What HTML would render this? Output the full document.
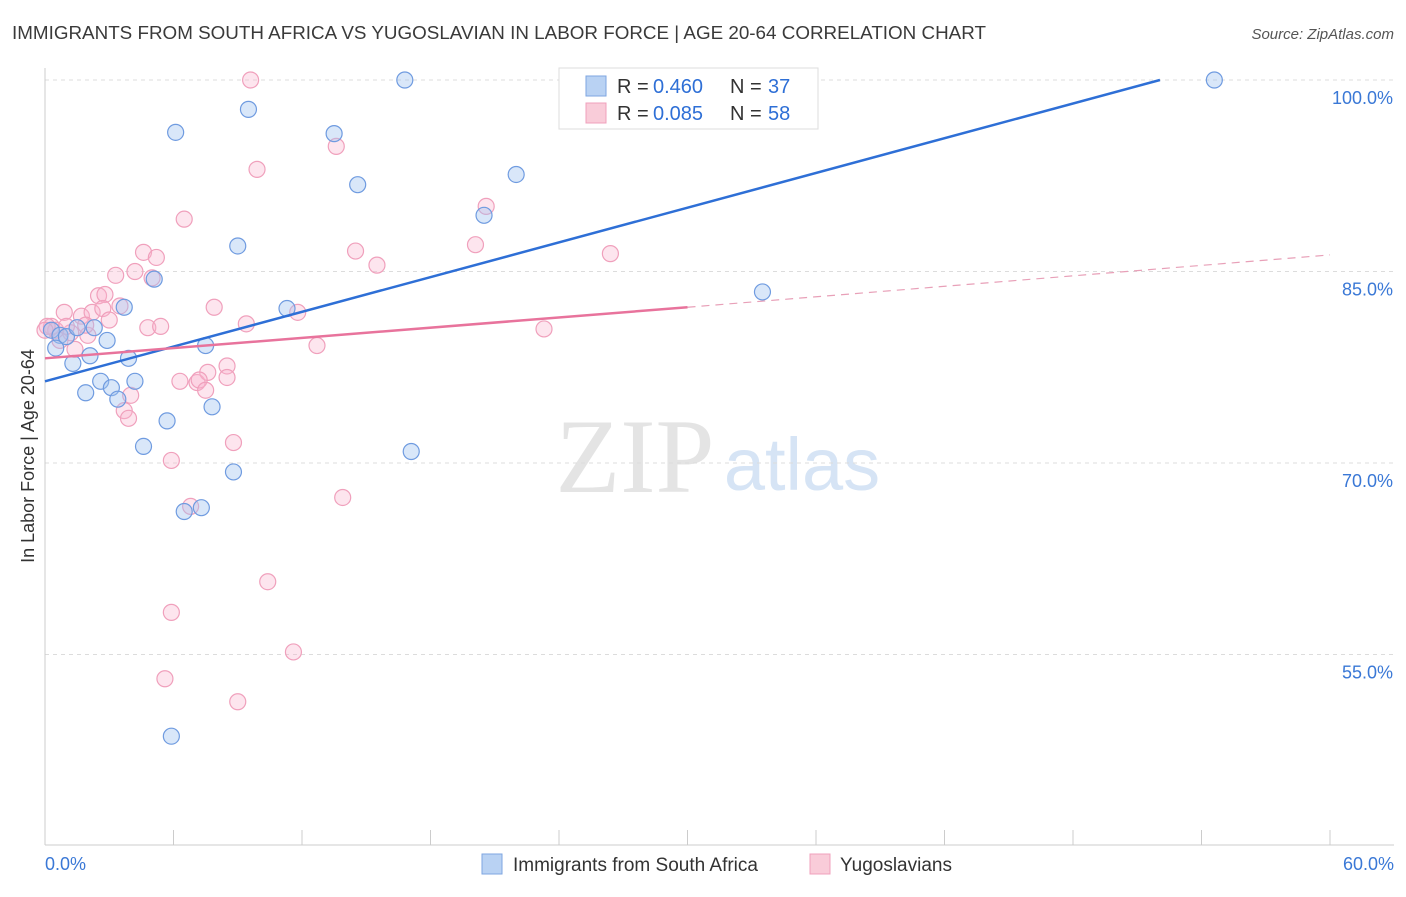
<!DOCTYPE html>
<html><head><meta charset="utf-8"><style>
body{margin:0;background:#fff;font-family:"Liberation Sans",sans-serif}
</style></head><body>
<svg id="c" width="1406" height="892" xmlns="http://www.w3.org/2000/svg" font-family="Liberation Sans, sans-serif">
<text x="12" y="39" font-size="18" fill="#3a3a3a" textLength="974" lengthAdjust="spacingAndGlyphs">IMMIGRANTS FROM SOUTH AFRICA VS YUGOSLAVIAN IN LABOR FORCE | AGE 20-64 CORRELATION CHART</text>
<text x="1394" y="39" font-size="15" fill="#555" font-style="italic" text-anchor="end">Source: ZipAtlas.com</text>
<g>
<text x="635" y="492" font-size="106" font-family="Liberation Serif, serif" fill="#e4e4e4" text-anchor="middle">ZIP</text>
<text x="802" y="490" font-size="74" fill="#d6e4f5" text-anchor="middle">atlas</text>
</g>
<g id="grid"></g>
<g id="axes"></g>
<g id="pts"></g>
<g id="lines"></g>
<text x="34" y="456" font-size="18" fill="#333" text-anchor="middle" transform="rotate(-90 34 456)">In Labor Force | Age 20-64</text>
<g>
<rect x="559" y="68" width="259" height="61" fill="#fff" stroke="#ddd"/>
<rect x="586" y="76" width="20" height="20" fill="#b9d2f3" stroke="#7ea6e0"/>
<text x="617" y="93" font-size="20" fill="#333">R =</text>
<text x="653" y="93" font-size="20" fill="#2e6fd6">0.460</text>
<text x="730" y="93" font-size="20" fill="#333">N =</text>
<text x="768" y="93" font-size="20" fill="#2e6fd6">37</text>
<rect x="586" y="103" width="20" height="20" fill="#f9ccd9" stroke="#f0a0bc"/>
<text x="617" y="120" font-size="20" fill="#333">R =</text>
<text x="653" y="120" font-size="20" fill="#2e6fd6">0.085</text>
<text x="730" y="120" font-size="20" fill="#333">N =</text>
<text x="768" y="120" font-size="20" fill="#2e6fd6">58</text>
</g>
<g>
<rect x="482" y="854" width="20" height="20" fill="#b9d2f3" stroke="#7ea6e0"/>
<text x="513" y="871" font-size="19" fill="#333">Immigrants from South Africa</text>
<rect x="810" y="854" width="20" height="20" fill="#f9ccd9" stroke="#f0a0bc"/>
<text x="840" y="871" font-size="19" fill="#333">Yugoslavians</text>
</g>
</svg>
<script>
const blueX=[16.8,54.6,9.5,6.1,13.5,14.6,22.0,20.5,9.0,5.1,3.7,11.3,33.5,0.3,0.7,1.0,1.5,2.3,2.9,0.5,7.5,2.1,3.9,1.3,2.6,4.2,3.1,1.9,3.4,7.8,5.7,4.6,17.1,8.8,6.5,7.3,5.9];
const blueY=[100,100,97.7,95.9,95.8,91.8,92.6,89.4,87.0,84.4,82.2,82.1,83.4,80.4,80.0,79.9,80.6,80.6,79.6,79.0,79.2,78.4,78.2,77.8,76.4,76.4,75.9,75.5,75.0,74.4,73.3,71.3,70.9,69.3,66.2,66.5,48.6];
const pinkX=[9.6,13.6,9.9,20.6,6.5,20.1,4.6,14.5,5.2,15.5,26.4,3.3,4.2,5.0,2.5,2.8,0.9,1.7,2.2,3.5,2.7,7.9,11.8,4.8,5.4,9.4,23.3,0.3,1.2,2.0,0.7,1.4,12.7,8.5,6.3,7.1,8.5,7.6,7.2,7.5,4.0,3.7,3.9,8.8,5.9,13.9,6.8,10.4,5.9,11.6,5.6,9.0,0.5,0.1,1.0,1.9,3.0,0.0];
const pinkY=[100,94.8,93.0,90.1,89.1,87.1,86.5,86.6,86.1,85.5,86.4,84.7,85.0,84.5,83.1,83.2,81.8,81.5,81.8,82.3,82.1,82.2,81.8,80.6,80.7,80.9,80.5,80.7,80.2,80.0,79.6,78.9,79.2,77.6,76.4,76.3,76.7,77.1,76.5,75.7,75.3,74.1,73.5,71.6,70.2,67.3,66.6,60.7,58.3,55.2,53.1,51.3,80.4,80.7,80.7,80.8,81.2,80.4];
const yTicks=[100,85,70,55];
const yTickLabels=["100.0%","85.0%","70.0%","55.0%"];
const xTickLabels=["0.0%","60.0%"];
const blueTrend=[[0,76.4],[52.06,100]];
const pinkTrendSolid=[[0,78.2],[30,82.2]];
const pinkTrendDash=[[30,82.2],[60,86.3]];
const sx=v=>45+v*(1285/60);
const sy=v=>80+(100-v)*(191.5/15);
const NS="http://www.w3.org/2000/svg";
function mk(t,a,p){const e=document.createElementNS(NS,t);for(const k in a)e.setAttribute(k,a[k]);p.appendChild(e);return e;}
const grid=document.getElementById('grid'),axes=document.getElementById('axes'),pts=document.getElementById('pts'),lines=document.getElementById('lines');
yTicks.forEach((t,i)=>{
 const l=mk('line',{x1:45,x2:1394,y1:sy(t),y2:sy(t),stroke:'#dcdcdc','stroke-dasharray':'4,4'},grid);
 
 
 const tx=mk('text',{x:1393,y:sy(t)+24,'font-size':18,fill:'#3a78d6','text-anchor':'end'},axes);
 tx.textContent=yTickLabels[i];
 
 
});
const ax=mk('line',{x1:45,x2:45,y1:68,y2:845,stroke:'#ccc'},axes);


const bx=mk('line',{x1:45,x2:1394,y1:845,y2:845,stroke:'#ccc'},axes);


for(let i=0;i<=10;i++){const t=mk('line',{x1:sx(i*6),x2:sx(i*6),y1:830,y2:845,stroke:'#ccc'},axes);
 
 }
[[0,'start',45],[60,'end',1394]].forEach((d,i)=>{const t=mk('text',{x:d[2],y:870,'font-size':18,fill:'#3a78d6','text-anchor':d[1]},axes);t.textContent=xTickLabels[i];
 
 });
pinkX.forEach((x,i)=>{const c=mk('circle',{cx:sx(x),cy:sy(pinkY[i]),r:8,fill:'rgba(248,180,205,0.35)',stroke:'#f0a0bc','stroke-width':1.2},pts);
 
 });
blueX.forEach((x,i)=>{const c=mk('circle',{cx:sx(x),cy:sy(blueY[i]),r:8,fill:'rgba(160,195,240,0.4)',stroke:'#6f9be0','stroke-width':1.2},pts);
 
 });
function ln(d,st,w,dash,name){const a={x1:sx(d[0][0]),y1:sy(d[0][1]),x2:sx(d[1][0]),y2:sy(d[1][1]),stroke:st,'stroke-width':w};if(dash)a['stroke-dasharray']=dash;const l=mk('line',a,lines);}
ln(blueTrend,'#2e6fd6',2.5,null,'trend-south-africa');
ln(pinkTrendSolid,'#e8739c',2.5,null,'trend-yugoslavians');
ln(pinkTrendDash,'#e8a0b8',1.2,'8,6','trend-yugoslavians-extended');
</script>
</body></html>
